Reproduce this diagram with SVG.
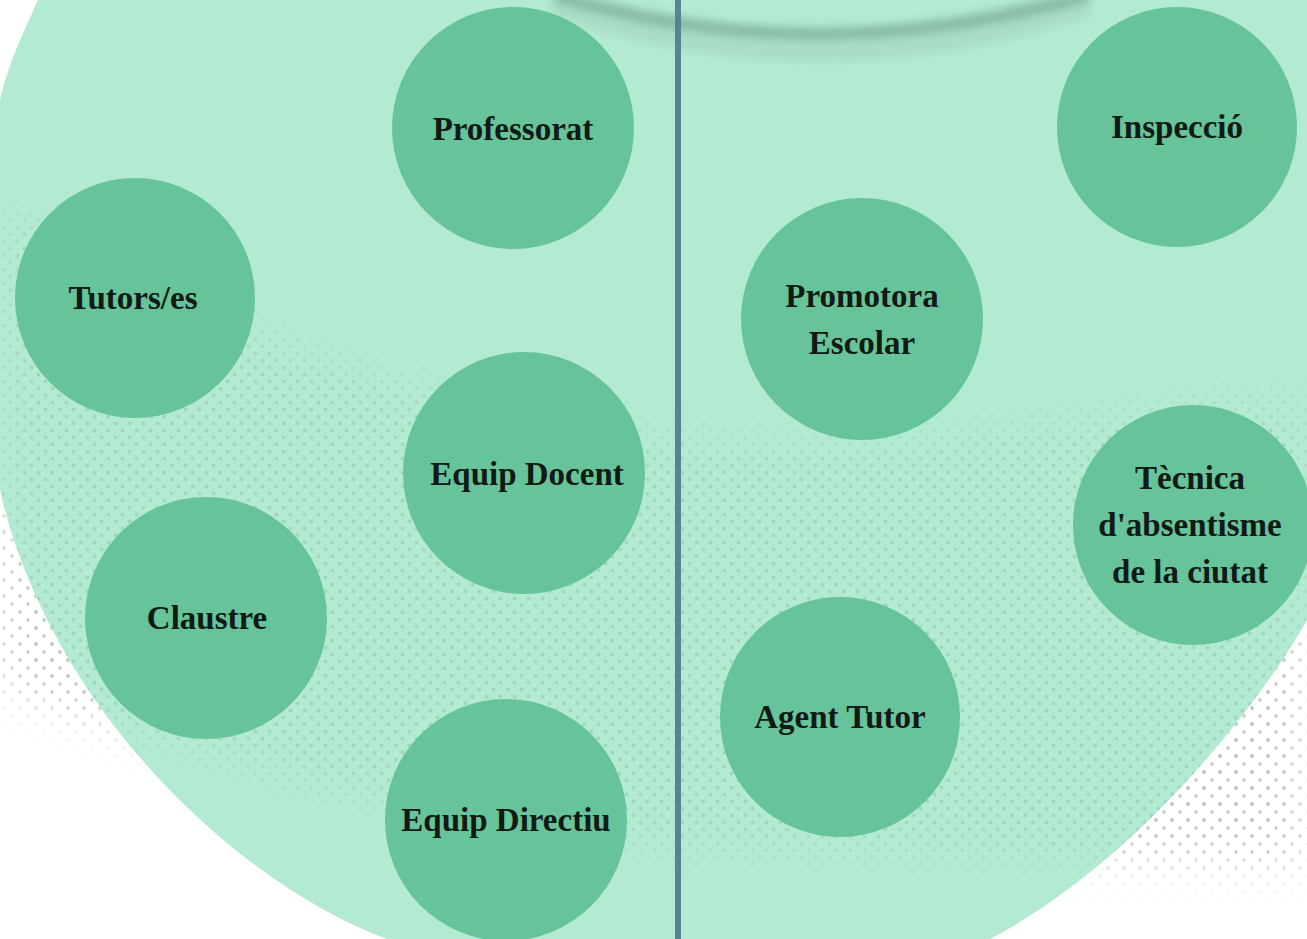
<svg xmlns="http://www.w3.org/2000/svg" width="1307" height="939" viewBox="0 0 1307 939">
  <style>
    .node { fill: #67c399; }
    .lbl { font-family: "Liberation Serif", "DejaVu Serif", serif; font-weight: bold; font-size: 33px; fill: #111a14; text-anchor: middle; }
  </style>
  <defs>
    <pattern id="dotsOut" x="0" y="0" width="16" height="16" patternUnits="userSpaceOnUse">
      <circle cx="4" cy="4" r="1.9" fill="#a9a6a8"/>
      <circle cx="12" cy="12" r="1.9" fill="#b8b2b4"/>
    </pattern>
    <pattern id="dotsIn" x="0" y="0" width="14" height="14" patternUnits="userSpaceOnUse">
      <circle cx="3.5" cy="3.5" r="1.9" fill="#7fae96"/>
      <circle cx="10.5" cy="10.5" r="1.9" fill="#7fae96"/>
    </pattern>
    <filter id="feather" x="-20%" y="-20%" width="140%" height="140%">
      <feGaussianBlur stdDeviation="22"/>
    </filter>
    <filter id="soft" x="-10%" y="-200%" width="120%" height="500%">
      <feGaussianBlur stdDeviation="4"/>
    </filter>
    <mask id="bandMask" maskUnits="userSpaceOnUse" x="0" y="0" width="1307" height="939">
      <path fill="#fff" filter="url(#feather)" d="M0,200 C200,330 480,420 700,440 C900,455 1100,405 1307,395 L1307,870 C1100,860 900,855 700,850 C420,830 200,760 0,690 Z"/>
    </mask>
    <clipPath id="greenClip">
      <path d="M38,0 L1307,0 L1307,620 C1262,700 1140,860 990,939 L387,939 C240,885 50,710 0,490 C-25,390 -25,200 0,100 C8,65 22,35 38,0 Z"/>
    </clipPath>
  </defs>

  <rect width="1307" height="939" fill="#ffffff"/>

  <!-- halftone texture on white background -->
  <g id="texture-outside" mask="url(#bandMask)">
    <rect width="1307" height="939" fill="url(#dotsOut)" opacity="0.7"/>
  </g>

  <!-- large light green disc -->
  <g id="background-disc">
    <path d="M38,0 L1307,0 L1307,620 C1262,700 1140,860 990,939 L387,939 C240,885 50,710 0,490 C-25,390 -25,200 0,100 C8,65 22,35 38,0 Z" fill="#b3ebd2"/>
  </g>

  <!-- subtle texture inside the disc -->
  <g id="texture-inside" clip-path="url(#greenClip)" mask="url(#bandMask)">
    <rect width="1307" height="939" fill="url(#dotsIn)" opacity="0.35"/>
  </g>

  <!-- top shadow arc -->
  <g id="top-arc">
    <path d="M555,0 Q815,90 1088,0" fill="none" stroke="#a3d2bb" stroke-width="34" opacity="0.55" filter="url(#soft)"/>
    <path d="M555,-4 Q815,72 1088,-4" fill="none" stroke="#7fb39b" stroke-width="12" opacity="0.8" filter="url(#soft)"/>
  </g>

  <!-- divider -->
  <g id="connectors">
    <line x1="678" y1="0" x2="678" y2="939" stroke="#588296" stroke-width="6"/>
  </g>

  <g id="node-professorat">
    <circle class="node" cx="513" cy="128" r="121"/>
    <text class="lbl" x="513" y="140">Professorat</text>
  </g>
  <g id="node-inspeccio">
    <circle class="node" cx="1177" cy="127" r="120"/>
    <text class="lbl" x="1177" y="138">Inspecció</text>
  </g>
  <g id="node-tutors">
    <circle class="node" cx="135" cy="298" r="120"/>
    <text class="lbl" x="133" y="309">Tutors/es</text>
  </g>
  <g id="node-promotora">
    <circle class="node" cx="862" cy="319" r="121"/>
    <text class="lbl" x="862" y="307">Promotora</text>
    <text class="lbl" x="862" y="354">Escolar</text>
  </g>
  <g id="node-equip-docent">
    <circle class="node" cx="524" cy="473" r="121"/>
    <text class="lbl" x="527" y="485">Equip Docent</text>
  </g>
  <g id="node-tecnica">
    <circle class="node" cx="1193" cy="525" r="120"/>
    <text class="lbl" x="1190" y="489">Tècnica</text>
    <text class="lbl" x="1190" y="536">d'absentisme</text>
    <text class="lbl" x="1190" y="583">de la ciutat</text>
  </g>
  <g id="node-claustre">
    <circle class="node" cx="206" cy="618" r="121"/>
    <text class="lbl" x="207" y="629">Claustre</text>
  </g>
  <g id="node-agent-tutor">
    <circle class="node" cx="840" cy="717" r="120"/>
    <text class="lbl" x="840" y="728">Agent Tutor</text>
  </g>
  <g id="node-equip-directiu">
    <circle class="node" cx="506" cy="820" r="121"/>
    <text class="lbl" x="506" y="831">Equip Directiu</text>
  </g>
</svg>
